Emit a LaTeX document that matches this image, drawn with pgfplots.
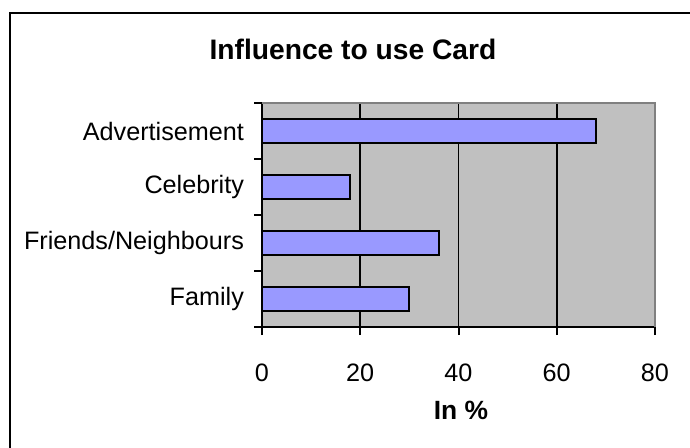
\documentclass[border=0pt]{standalone}
\usepackage{fontspec}
\setmainfont{Liberation Sans}
\usepackage{pgfplots}
\pgfplotsset{compat=1.18}
\definecolor{plotbg}{HTML}{C0C0C0}
\definecolor{barfill}{HTML}{9999FF}
\definecolor{framegray}{HTML}{808080}
\begin{document}
\begin{tikzpicture}
\useasboundingbox (0pt,0pt) rectangle (345pt,-223.5pt);
% outer chart frame (right and bottom edges fall outside the page)
\draw[line width=1pt] (4.75pt,-230pt) -- (4.75pt,-6.25pt) -- (352pt,-6.25pt);
\node[font=\bfseries\fontsize{14.1}{17}\selectfont] at (176.5pt,-24.5pt) {Influence to use Card};
\begin{axis}[
  at={(131pt,-163.5pt)}, anchor=south west,
  scale only axis, width=196.5pt, height=112pt,
  xmin=0, xmax=80, ymin=-0.5, ymax=3.5,
  axis x line*=bottom, axis y line*=left,
  axis line style={-, line width=1pt},
  axis background/.style={fill=plotbg},
  xtick={0,20,...,80},
  % category separators on the y axis carry no labels
  ytick={-0.5,0.5,1.5,2.5,3.5},
  yticklabels={{},{},{},{},{}},
  extra y ticks={0,1,2,3},
  extra y tick labels={Family, Friends/Neighbours, Celebrity, Advertisement},
  extra y tick style={major tick length=0pt, yticklabel style={xshift=-5.5pt}},
  tick align=outside,
  major tick length=4pt,
  tick style={black, line width=1pt},
  xmajorgrids, grid style={black, line width=0.8pt},
  ticklabel style={font=\fontsize{12.6}{15}\selectfont},
  xticklabel style={yshift=-10.7pt},
  /pgf/number format/assume math mode=true,
  clip=false,
]
\addplot[xbar, bar width=12pt, fill=barfill, draw=black, line width=1pt]
  coordinates {(30,0) (36,1) (18,2) (68,3)};
\draw[framegray, line width=0.8pt] (rel axis cs:0,1) -- (rel axis cs:1,1) -- (rel axis cs:1,0);
\end{axis}
\node[font=\bfseries\fontsize{13.2}{16}\selectfont] at (230.5pt,-205pt) {In \%};
\end{tikzpicture}
\end{document}
